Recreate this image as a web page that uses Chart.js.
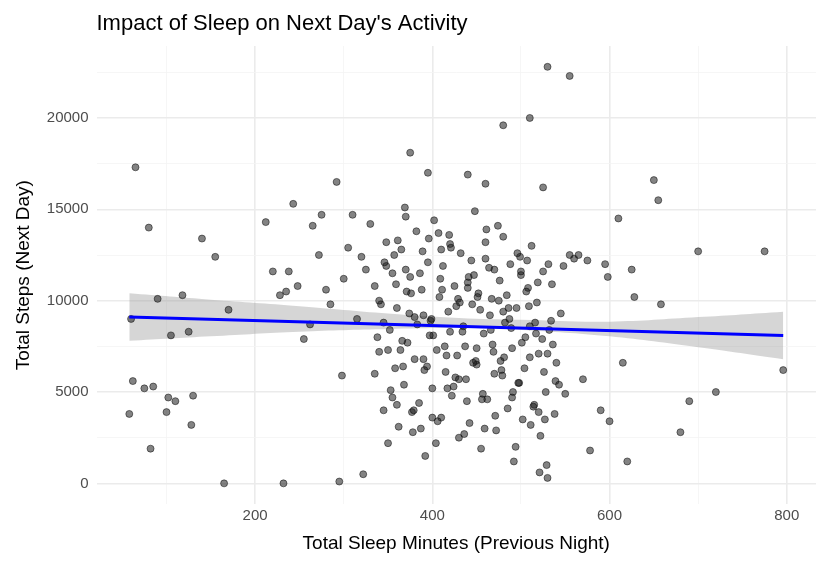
<!DOCTYPE html>
<html>
<head>
<meta charset="utf-8">
<script src="https://cdn.jsdelivr.net/npm/chart.js@4.4.1/dist/chart.umd.min.js"></script>
<style>
  body { margin: 0; background: #fff; }
  #wrap { width: 826px; height: 571px; }
</style>
</head>
<body>
<div id="wrap"><canvas id="chart" width="826" height="571"></canvas></div>
<script>
// minutos de sono (noite anterior) e passos (dia seguinte)
const sleepMinutes = [
  58, 60, 62, 65, 75, 80, 82, 85, 90, 100, 102, 105, 110, 118, 125, 128, 130, 140, 155, 165, 170,
  212, 220, 228, 232, 235, 238, 243, 248, 255, 262, 265, 272, 275, 280, 285, 292, 295, 298, 300,
  305, 310, 315, 320, 322, 325, 330, 335, 340, 345, 348, 350, 352, 355, 358, 360, 362, 365, 368, 370,
  372, 375, 378, 380, 382, 385, 388, 390, 392, 395, 398, 400, 402, 405, 408, 410, 412, 415, 418, 420,
  422, 425, 428, 430, 432, 435, 438, 440, 442, 445, 448, 450, 452, 455, 458, 460, 462, 465, 468, 470,
  472, 475, 478, 480, 482, 485, 488, 490, 492, 495, 498, 500, 502, 505, 508, 510, 512, 515, 518, 520,
  522, 525, 528, 530, 532, 535, 538, 540, 545, 550, 555,
  335, 342, 348, 355, 361, 366, 371, 377, 383, 389, 394, 399, 404, 409, 414, 419, 424, 429, 434, 439,
  444, 449, 454, 459, 464, 469, 474, 479, 484, 489, 494, 499, 504, 509, 514, 519, 524, 529, 534, 539,
  338, 346, 353, 359, 364, 369, 374, 379, 386, 391, 396, 401, 406, 411, 416, 421, 426, 431, 436, 441,
  446, 451, 456, 461, 466, 471, 476, 481, 486, 491, 496, 501, 506, 511, 516, 521, 526, 531, 536, 543,
  340, 350, 360, 370, 380, 390, 400, 410, 420, 430, 440, 450, 460, 470, 480, 490, 500, 510, 520, 530,
  345, 357, 367, 376, 387, 397, 407, 417, 427, 437, 447, 457, 467, 477, 487, 497, 507, 517, 527, 548,
  560, 565, 570, 575, 578, 590, 595, 598, 600, 610, 615, 620, 625, 628, 650, 655, 658, 680, 690, 700,
  720, 775, 796, 510, 530, 555, 480, 375, 395, 460, 525, 440
];
const nextDaySteps = [
  3800, 9000, 5600, 17300, 5200, 14000, 1900, 5300, 10100, 3900, 4700, 8100, 4500, 10300, 8300, 3200, 4800, 13400, 12400, 0, 9500,
  14300, 11600, 10300, 0, 10500, 11600, 15300, 10800, 7900, 8700, 14100, 12500, 14700, 10600, 9800, 16500, 100, 5900, 11200,
  12900, 14700, 9000, 12400, 500, 11700, 14200, 10800, 7200, 4000, 13200, 2200, 8400, 11500, 6300, 9600, 3100, 12800, 5400, 14600,
  7700, 11300, 2800, 9100, 13800, 4400, 10600, 6800, 1500, 12100, 8900, 5200, 14400, 7300, 10200, 3600, 11900, 6100, 9400, 13100,
  4800, 10800, 7000, 2500, 12600, 8600, 5700, 11000, 3300, 9800, 14900, 6500, 10400, 1900, 8200, 12300, 4600, 9200, 7600, 11700,
  2900, 10000, 6200, 13500, 8800, 4100, 12000, 7400, 1200, 9600, 5500, 11400, 3500, 8000, 10700, 6900, 13000, 4300, 9900, 7100,
  2600, 11600, 5000, 300, 8400, 10900, 3800, 6600, 9300, 4900, 12500,
  6000, 9800, 11900, 4700, 13300, 7800, 10500, 3900, 8700, 12700, 6400, 9000, 2200, 11200, 7500, 13600, 5300, 10100, 8300, 4500,
  12200, 6700, 9500, 3000, 11800, 7200, 14100, 5900, 10300, 8500, 2000, 12400, 6300, 9700, 4200, 11000, 7900, 1000, 8900, 5600,
  8000, 12100, 5100, 10900, 7300, 15100, 9300, 4000, 11500, 6200, 13400, 8100, 3400, 10600, 7000, 12900, 5800, 9900, 2700, 11300,
  6600, 10200, 4600, 13900, 8400, 3700, 11100, 6900, 9600, 5000, 12600, 7700, 10500, 3200, 8800, 600, 6100, 12000, 7600, 5400,
  10000, 7300, 4300, 11700, 6800, 9200, 3600, 12800, 8300, 5700, 10700, 7400, 13200, 6000, 9400, 4700, 11600, 8600, 3900, 7100,
  8800, 12500, 6400, 10400, 3000, 8100, 13700, 5200, 9700, 7500, 11400, 4900, 10100, 6700, 9000, 5500, 12200, 8200, 3500, 11900,
  12300, 12500, 5700, 12200, 1800, 4000, 12000, 11300, 3400, 14500, 6600, 1200, 11700, 10200, 16600, 15500, 9800, 2800, 4500, 12700,
  5000, 12700, 6200, 20000, 22800, 22300, 19600, 18100, 17000, 16400, 16200, 16900
];

// reta de regressão e intervalo de confiança
const fitX = [58, 796];
const fitY = [9100, 8100];
const bandX = [58, 150, 250, 350, 430, 500, 600, 700, 796];
const bandLow = [7800, 8050, 8300, 8450, 8500, 8400, 8050, 7450, 6800];
const bandHigh = [10400, 10050, 9700, 9300, 9050, 8950, 8850, 9100, 9400];

const chartTitle = "Impact of Sleep on Next Day's Activity";

const toXY = (xs, ys) => xs.map((x, i) => ({ x: x, y: ys[i] }));

// título alinhado com a área do gráfico (como no ggplot)
const titlePlugin = {
    id: 'panelTitle',
    afterDraw(chart) {
        const c = chart.ctx;
        c.save();
        c.fillStyle = '#000';
        c.font = '22px Arial, "Liberation Sans"';
        c.textBaseline = 'alphabetic';
        c.fillText(chartTitle, chart.chartArea.left, 30);
        c.restore();
    }
};

const ctx = document.getElementById('chart').getContext('2d');
new Chart(ctx, {
    type: 'scatter',
    data: {
        datasets: [
            {
                type: 'line',
                data: toXY(bandX, bandHigh),
                borderWidth: 0,
                pointRadius: 0,
                fill: '+1',
                backgroundColor: 'rgba(153,153,153,0.4)',
                tension: 0.4,
                order: 3
            },
            {
                type: 'line',
                data: toXY(bandX, bandLow),
                borderWidth: 0,
                pointRadius: 0,
                fill: false,
                tension: 0.4,
                order: 3
            },
            {
                data: toXY(sleepMinutes, nextDaySteps),
                pointRadius: 3.5,
                backgroundColor: 'rgba(30,30,30,0.55)',
                borderColor: 'rgba(0,0,0,0.6)',
                borderWidth: 0.8,
                order: 2
            },
            {
                type: 'line',
                data: toXY(fitX, fitY),
                borderColor: '#0000ff',
                borderWidth: 3,
                pointRadius: 0,
                fill: false,
                order: 1
            }
        ]
    },
    options: {
        responsive: false,
        animation: false,
        layout: { padding: { left: 8, right: 10, top: 46, bottom: 12 } },
        plugins: {
            legend: { display: false },
            tooltip: { enabled: false },
            title: { display: false }
        },
        scales: {
            x: {
                type: 'linear',
                min: 21, max: 833,
                border: { display: false },
                afterBuildTicks: axis => {
                    axis.ticks = [100, 200, 300, 400, 500, 600, 700, 800].map(v => ({ value: v }));
                },
                ticks: {
                    color: '#4d4d4d',
                    font: { family: 'Arial, Liberation Sans', size: 15 },
                    callback: v => v % 200 === 0 ? v : ''
                },
                grid: {
                    color: c => c.tick && c.tick.value % 200 === 0 ? '#ebebeb' : '#f4f4f4',
                    lineWidth: c => c.tick && c.tick.value % 200 === 0 ? 1.6 : 0.8,
                    drawTicks: false
                },
                title: {
                    display: true,
                    text: 'Total Sleep Minutes (Previous Night)',
                    color: '#000',
                    font: { family: 'Arial, Liberation Sans', size: 19 }
                }
            },
            y: {
                min: -1140, max: 23940,
                border: { display: false },
                afterBuildTicks: axis => {
                    axis.ticks = [0, 2500, 5000, 7500, 10000, 12500, 15000, 17500, 20000, 22500].map(v => ({ value: v }));
                },
                ticks: {
                    color: '#4d4d4d',
                    font: { family: 'Arial, Liberation Sans', size: 15 },
                    padding: 8,
                    callback: v => v % 5000 === 0 ? v : ''
                },
                grid: {
                    color: c => c.tick && c.tick.value % 5000 === 0 ? '#ebebeb' : '#f4f4f4',
                    lineWidth: c => c.tick && c.tick.value % 5000 === 0 ? 1.6 : 0.8,
                    drawTicks: false
                },
                title: {
                    display: true,
                    text: 'Total Steps (Next Day)',
                    color: '#000',
                    font: { family: 'Arial, Liberation Sans', size: 19 }
                }
            }
        }
    },
    plugins: [titlePlugin]
});
</script>
</body>
</html>
